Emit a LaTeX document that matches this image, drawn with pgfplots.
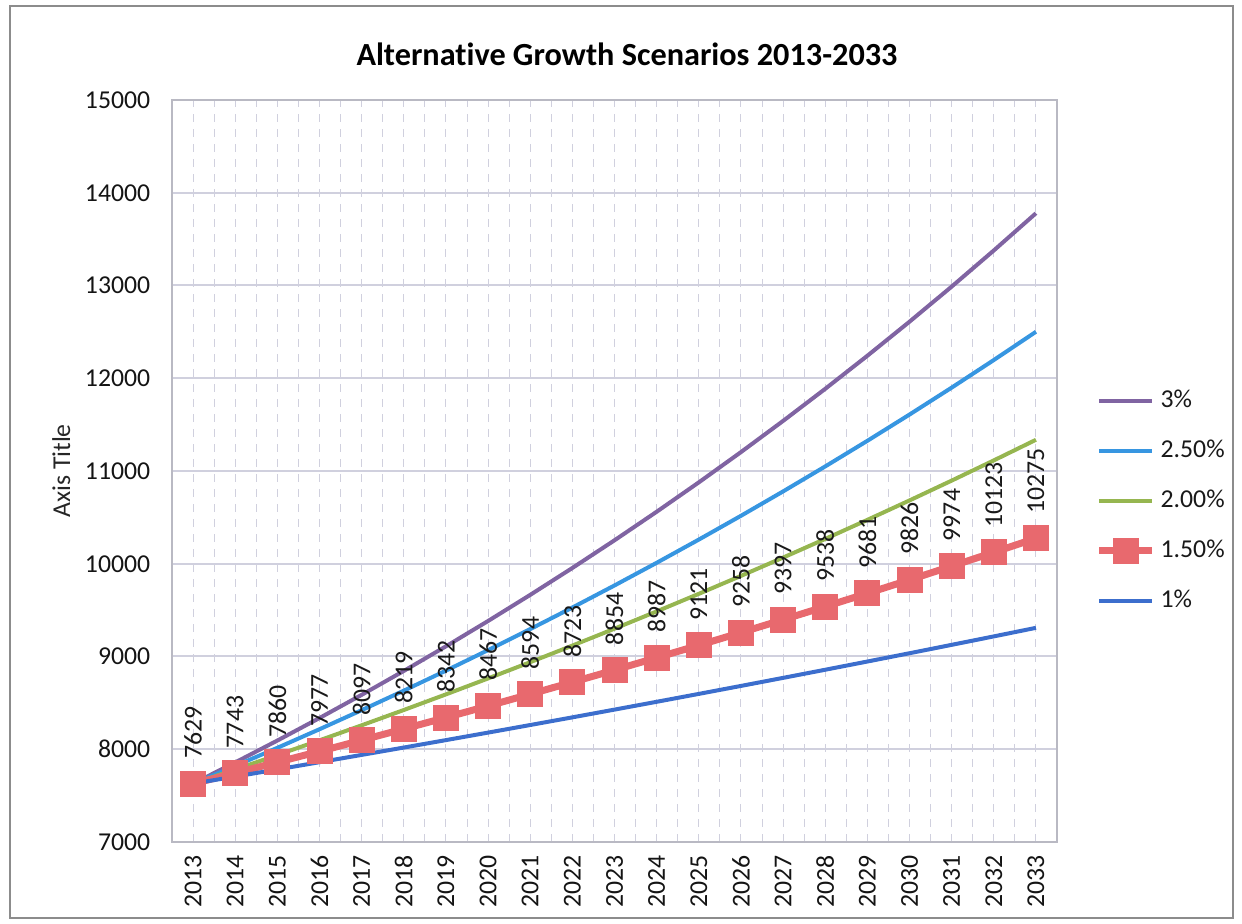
\documentclass[border=0pt]{standalone}
\usepackage{fontspec}
\setmainfont{Carlito}[Ligatures=NoCommon]
\usepackage{pgfplots}
\pgfplotsset{compat=1.18}
\definecolor{cthree}{RGB}{128,100,162}
\definecolor{ctwofive}{RGB}{55,150,225}
\definecolor{ctwo}{RGB}{150,182,80}
\definecolor{conefive}{RGB}{232,105,110}
\definecolor{cone}{RGB}{60,110,205}
\definecolor{gridc}{RGB}{208,208,222}
\definecolor{axc}{RGB}{185,185,195}
\begin{document}
\begin{tikzpicture}[x=0.4pt,y=0.4pt]
\path[use as bounding box] (0,0) rectangle (1242,924);
\draw[black!45, line width=0.8pt] (10,6) rectangle (1233,918);
\node[font=\bfseries\fontsize{12.9}{15}\selectfont] at (627,870) {Alternative Growth Scenarios 2013-2033};
\begin{axis}[
  at={(68.8pt,32.8pt)}, anchor=south west, scale only axis,
  width=354pt, height=296.8pt,
  xmin=-0.5, xmax=20.5, ymin=7000, ymax=15000,
  xtick={0,...,20},
  xticklabels={2013,2014,2015,2016,2017,2018,2019,2020,2021,2022,2023,2024,2025,2026,2027,2028,2029,2030,2031,2032,2033},
  minor xtick={-0.5,0.5,...,20.5},
  ytick={7000,8000,...,15000},
  scaled y ticks=false,
  /pgf/number format/1000 sep={},
  /pgf/number format/assume math mode=true,
  major tick length=0pt, minor tick length=0pt,
  xmajorgrids, xminorgrids, ymajorgrids,
  major x grid style={gridc, dashed, line width=0.4pt},
  minor x grid style={gridc, dashed, line width=0.4pt},
  major y grid style={gridc, line width=0.8pt},
  axis line style={axc, line width=0.8pt},
  tick label style={font=\fontsize{10.3}{12}\selectfont, text=black!92},
  xticklabel style={rotate=90, anchor=east, inner xsep=5pt},
  yticklabel style={inner xsep=8.5pt},
  ylabel={Axis Title},
  ylabel style={at={(axis description cs:-0.125,0.5)}, anchor=center, font=\fontsize{10.3}{12}\selectfont, text=black!85},
  legend style={at={(1.035,0.46)}, anchor=west, draw=none, fill=none,
    font=\fontsize{10.3}{12}\selectfont, row sep=7.5pt, text=black!90},
  legend cell align=left,
  legend image code/.code={\draw[mark repeat=2,mark phase=2] plot coordinates {(0cm,0cm) (0.37cm,0cm) (0.74cm,0cm)};},
]
\addplot[cthree, line width=1.6pt, no marks] coordinates {
(0,7629) (1,7857.9) (2,8093.6) (3,8336.4) (4,8586.5) (5,8844.1) (6,9109.4) (7,9382.7) (8,9664.2) (9,9954.1) (10,10252.7)
(11,10560.3) (12,10877.1) (13,11203.4) (14,11539.6) (15,11885.7) (16,12242.3) (17,12609.6) (18,12987.9) (19,13377.5) (20,13778.8)};
\addlegendentry{3\%}
\addplot[ctwofive, line width=1.6pt, no marks] coordinates {
(0,7629) (1,7819.7) (2,8015.2) (3,8215.6) (4,8421.0) (5,8631.5) (6,8847.3) (7,9068.5) (8,9295.2) (9,9527.6) (10,9765.8)
(11,10009.9) (12,10260.2) (13,10516.7) (14,10779.6) (15,11049.1) (16,11325.3) (17,11608.4) (18,11898.6) (19,12196.1) (20,12501.0)};
\addlegendentry{2.50\%}
\addplot[ctwo, line width=1.6pt, no marks] coordinates {
(0,7629) (1,7781.6) (2,7937.2) (3,8096.0) (4,8257.9) (5,8423.0) (6,8591.5) (7,8763.3) (8,8938.6) (9,9117.4) (10,9299.7)
(11,9485.7) (12,9675.4) (13,9868.9) (14,10066.3) (15,10267.6) (16,10472.9) (17,10682.4) (18,10896.1) (19,11114.0) (20,11336.3)};
\addlegendentry{2.00\%}
\addplot[conefive, line width=2.8pt, mark=square*, mark size=5pt, mark options={solid, fill=conefive, draw=conefive, line width=0pt},
  nodes near coords, point meta=explicit symbolic,
  every node near coord/.style={rotate=90, anchor=west, inner xsep=10pt, text=black!90, font=\fontsize{10.3}{12}\selectfont}]
coordinates {
(0,7629)[7629] (1,7743)[7743] (2,7860)[7860] (3,7977)[7977] (4,8097)[8097] (5,8219)[8219] (6,8342)[8342] (7,8467)[8467]
(8,8594)[8594] (9,8723)[8723] (10,8854)[8854] (11,8987)[8987] (12,9121)[9121] (13,9258)[9258] (14,9397)[9397]
(15,9538)[9538] (16,9681)[9681] (17,9826)[9826] (18,9974)[9974] (19,10123)[10123] (20,10275)[10275]};
\addlegendentry{1.50\%}
\addplot[cone, line width=1.6pt, no marks] coordinates {
(0,7629) (1,7705.3) (2,7782.3) (3,7860.2) (4,7938.8) (5,8018.1) (6,8098.3) (7,8179.3) (8,8261.1) (9,8343.7) (10,8427.2)
(11,8511.4) (12,8596.5) (13,8682.5) (14,8769.3) (15,8857.0) (16,8945.6) (17,9035.0) (18,9125.4) (19,9216.6) (20,9308.8)};
\addlegendentry{1\%}
\end{axis}
\end{tikzpicture}
\end{document}
